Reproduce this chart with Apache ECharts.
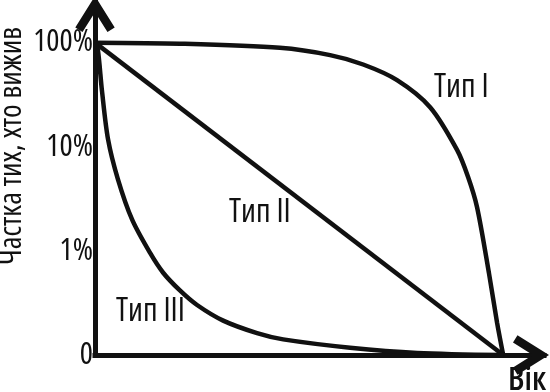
<!DOCTYPE html>
<html>
<head>
<meta charset="utf-8">
<script src="https://cdn.jsdelivr.net/npm/echarts@6/dist/echarts.min.js"></script>
<style>
    html, body { margin: 0; padding: 0; background: #fff; }
    #chart { width: 550px; height: 392px; }
</style>
</head>
<body>
<div id="chart"></div>
<script>
// Survival curves (y = log level: 0 -> "0", 1 -> 1%, 2 -> 10%, 3 -> 100%)
const tickLabels = ['0', '1%', '10%', '100%'];

const typeIAge = [0, 2.08, 4.53, 5.76, 6.57, 7.40, 8.21, 8.87, 9.14, 9.36, 9.65, 9.85, 10];
const typeIValue = [3, 2.99, 2.95, 2.88, 2.79, 2.64, 2.38, 1.97, 1.71, 1.42, 0.79, 0.31, 0];

const typeIIAge = [0, 10];
const typeIIValue = [3, 0];

const typeIIIAge = [0, 0.07, 0.17, 0.32, 0.56, 0.91, 1.35, 1.67, 2.08, 2.5, 3.14, 3.97, 4.61, 6.25, 7.89, 10];
const typeIIIValue = [3, 2.93, 2.54, 2.07, 1.69, 1.3, 0.98, 0.79, 0.62, 0.48, 0.33, 0.21, 0.15, 0.07, 0.02, 0];

const FAMILY = "'Open Sans'";
const INK = '#111';

// open chevron arrow, drawn pointing up
const chevron = 'path://M15,0 L30,24 L24.5,27.4 L15,12.3 L5.5,27.4 L0,24 Z';

function pairs(xs, ys) {
    return xs.map((x, i) => [x, ys[i]]);
}

function curve(name, xs, ys) {
    return {
        name: name,
        type: 'line',
        data: pairs(xs, ys),
        smooth: 0.3,
        showSymbol: false,
        lineStyle: { color: INK, width: 4.5 },
        z: 3
    };
}

function label(text, x, y, size, weight) {
    return {
        type: 'text', x: x, y: y,
        style: {
            text: text,
            font: (weight || 'normal') + ' condensed ' + size + 'px ' + FAMILY,
            fill: INK,
            verticalAlign: 'middle'
        }
    };
}

const axisArrow = {
    lineStyle: { color: INK, width: 5, cap: 'square' },
    symbol: ['none', chevron],
    symbolSize: [40, 36],
    symbolOffset: [0, -13]
};

const chart = echarts.init(document.getElementById('chart'));
chart.setOption({
    backgroundColor: '#fff',
    animation: false,
    grid: { left: 95, right: 6, top: 1, bottom: 37, containLabel: false },
    xAxis: {
        type: 'value',
        min: 0,
        max: 11,
        axisLine: axisArrow,
        axisTick: { show: false },
        axisLabel: { show: false },
        splitLine: { show: false }
    },
    yAxis: {
        type: 'value',
        min: 0,
        max: 3.4,
        interval: 1,
        axisLine: Object.assign({ show: true }, axisArrow),
        axisTick: { show: false },
        splitLine: { show: false },
        axisLabel: {
            color: INK,
            fontFamily: FAMILY,
            fontWeight: 'condensed',
            fontSize: 31,
            margin: 2,
            showMaxLabel: false,
            formatter: function(v) {
                return Number.isInteger(v) ? tickLabels[v] : '';
            }
        }
    },
    graphic: [
        {
            type: 'text', x: 12, y: 146, rotation: Math.PI / 2,
            style: {
                text: 'Частка тих, хто вижив',
                font: 'normal condensed 31px ' + FAMILY,
                fill: INK, align: 'center', verticalAlign: 'middle'
            }
        },
        label('Тип I', 434, 88, 32, 500),
        label('Тип II', 229, 213, 32, 500),
        label('Тип III', 116, 312, 32, 500),
        label('Вік', 508, 381, 33, 600)
    ],
    series: [
        curve('Тип I', typeIAge, typeIValue),
        curve('Тип II', typeIIAge, typeIIValue),
        curve('Тип III', typeIIIAge, typeIIIValue)
    ]
});
</script>
</body>
</html>
